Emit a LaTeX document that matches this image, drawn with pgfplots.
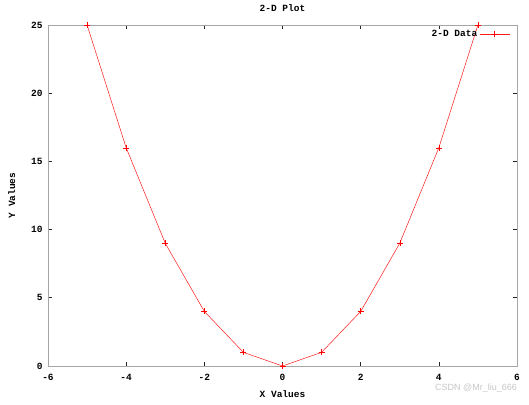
\documentclass[border=0pt]{standalone}
\usepackage{pgfplots}
\pgfplotsset{compat=1.18}
\usepackage{fontspec}
\setmonofont{Liberation Mono}
\newfontfamily\wmfont{Liberation Sans}
\begin{document}
\begin{tikzpicture}
\begin{axis}[
    name=ax,
    scale only axis,
    width=469pt, height=341pt,
    xmin=-6, xmax=6, ymin=0, ymax=25,
    xtick={-6,-4,...,6}, ytick={0,5,...,25},
    tick pos=both, tick align=inside,
    major tick length=4pt,
    axis line style={gray!70, line width=0.8pt},
    every tick/.style={gray!30!black, line width=0.6pt},
    font=\ttfamily\bfseries\fontsize{9.5}{11}\selectfont,
    /pgf/number format/assume math mode=true,
    xticklabel style={yshift=-5pt},
    yticklabel style={xshift=-2pt},
    title={2-D Plot},
    title style={yshift=4pt},
    xlabel={X Values}, ylabel={Y Values},
    xlabel style={yshift=-3pt},
    ylabel style={yshift=9pt},
    legend plot pos=right,
    legend style={draw=none, fill=none, at={(1,1)}, anchor=north east,
        xshift=-6pt, yshift=-2pt, inner sep=1pt,
        font=\ttfamily\bfseries\fontsize{9.5}{11}\selectfont},
    legend image code/.code={\draw[mark repeat=2,mark phase=2,#1]
        plot coordinates {(0pt,0pt) (15pt,0pt) (30pt,0pt)};},
]
\addplot[red!90!white, line width=0.5pt, mark=+, mark size=3pt, mark options={solid, red}] coordinates {
    (-5,25) (-4,16) (-3,9) (-2,4) (-1,1) (0,0) (1,1) (2,4) (3,9) (4,16) (5,25)
};
\legend{2-D Data}
\end{axis}
\node[anchor=north east, font=\wmfont\fontsize{9}{10}\selectfont, text=gray!45, inner sep=0pt]
    at ([shift={(0pt,-18pt)}]ax.south east) {CSDN @Mr\_liu\_666};
\useasboundingbox ([shift={(-48pt,-39pt)}]ax.south west) rectangle ([shift={(12pt,25pt)}]ax.north east);
\end{tikzpicture}
\end{document}
